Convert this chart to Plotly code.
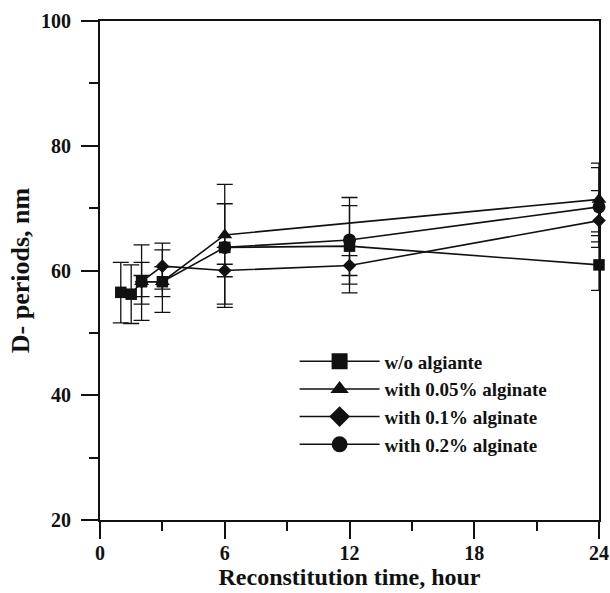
import plotly.graph_objects as go

# ---- data ----
time_sq = [1, 1.5, 2, 3, 6, 12, 24]
dp_sq = [56.5, 56.2, 58.2, 58.2, 63.7, 63.9, 60.9]
err_sq_plus = [4.8, 4.7, 5.9, 5.1, 7.0, 6.5, 5.3]
err_sq_minus = [4.9, 4.7, 6.2, 4.9, 9.1, 7.5, 4.1]

time_tri = [2, 3, 6, 24]
dp_tri = [58.2, 58.2, 65.7, 71.4]
err_tri_plus = [3.1, 2.4, 8.1, 5.8]
err_tri_minus = [2.4, 2.4, 11.6, 5.8]

time_dia = [2, 3, 6, 12, 24]
dp_dia = [58.2, 60.7, 60.0, 60.8, 68.0]
err_dia_plus = [1.0, 3.7, 1.0, 1.6, 4.8]
err_dia_minus = [3.6, 3.7, 1.0, 1.6, 3.4]

time_cir = [6, 12, 24]
dp_cir = [63.7, 64.9, 70.2]
err_cir_plus = [0.0, 6.8, 6.3]
err_cir_minus = [0.0, 7.1, 6.5]

names = ["w/o algiante", "with 0.05% alginate", "with 0.1% alginate", "with 0.2% alginate"]
symbols = ["square", "triangle-up", "diamond", "circle"]

x_ticks = [0, 6, 12, 18, 24]
y_ticks = [20, 40, 60, 80, 100]

FONT = "Liberation Serif, Times New Roman, serif"
INK = "#111111"

fig = go.Figure()

def add(xs, ys, ep, em, symbol, size):
    fig.add_trace(go.Scatter(
        x=xs, y=ys, mode="lines+markers", showlegend=False,
        line=dict(color=INK, width=1.6),
        marker=dict(symbol=symbol, size=size, color=INK, line=dict(width=0)),
        error_y=dict(type="data", symmetric=False, array=ep, arrayminus=em,
                     color=INK, thickness=1.3, width=8),
        cliponaxis=False,
    ))

# draw order: circles, diamonds, squares, triangles (triangles on top)
add(time_cir, dp_cir, err_cir_plus, err_cir_minus, "circle", 13)
add(time_dia, dp_dia, err_dia_plus, err_dia_minus, "diamond", 10.5)
add(time_sq, dp_sq, err_sq_plus, err_sq_minus, "square", 11.5)
add(time_tri, dp_tri, err_tri_plus, err_tri_minus, "triangle-up", 13)

# legend entries (no data of their own; larger symbols as in the reference key)
for i, (nm, sym) in enumerate(zip(names, symbols)):
    fig.add_trace(go.Scatter(
        x=[None], y=[None], mode="lines+markers", name=nm,
        line=dict(color=INK, width=1.5),
        marker=dict(symbol=sym, size=16, color=INK, line=dict(width=0)),
        legendrank=i + 1,
    ))

axis_common = dict(
    showline=True, linewidth=2, linecolor=INK, mirror=True,
    ticks="outside", ticklen=17, tickwidth=2, tickcolor=INK,
    showgrid=False, zeroline=False, automargin=False,
    tickfont=dict(family=FONT, size=20, color=INK, weight="bold"),
)

fig.update_layout(
    width=610, height=593,
    margin=dict(l=100, r=11, t=21, b=73),
    paper_bgcolor="white", plot_bgcolor="white",
    xaxis=dict(range=[0, 24], tickvals=x_ticks, ticklabelstandoff=-3,
               minor=dict(dtick=3, ticklen=9, tickwidth=2, tickcolor=INK, ticks="outside"),
               title=dict(text="Reconstitution time, hour", standoff=4,
                          font=dict(family=FONT, size=24, color=INK, weight="bold")),
               **axis_common),
    yaxis=dict(range=[20, 100], tickvals=y_ticks, ticklabelstandoff=6,
               minor=dict(dtick=10, ticklen=9, tickwidth=2, tickcolor=INK, ticks="outside"),
               title=dict(text="D- periods, nm", standoff=4,
                          font=dict(family=FONT, size=26, color=INK, weight="bold")),
               **axis_common),
    showlegend=True,
    legend=dict(x=0.39, y=0.356, xanchor="left", yanchor="top",
                bgcolor="rgba(0,0,0,0)", borderwidth=0,
                itemwidth=80, tracegroupgap=0,
                font=dict(family=FONT, size=19, color=INK, weight="bold")),
)

fig.write_html("out.html", config={"displayModeBar": False},
               post_script="document.body.style.margin='0';document.body.style.overflow='hidden';")
